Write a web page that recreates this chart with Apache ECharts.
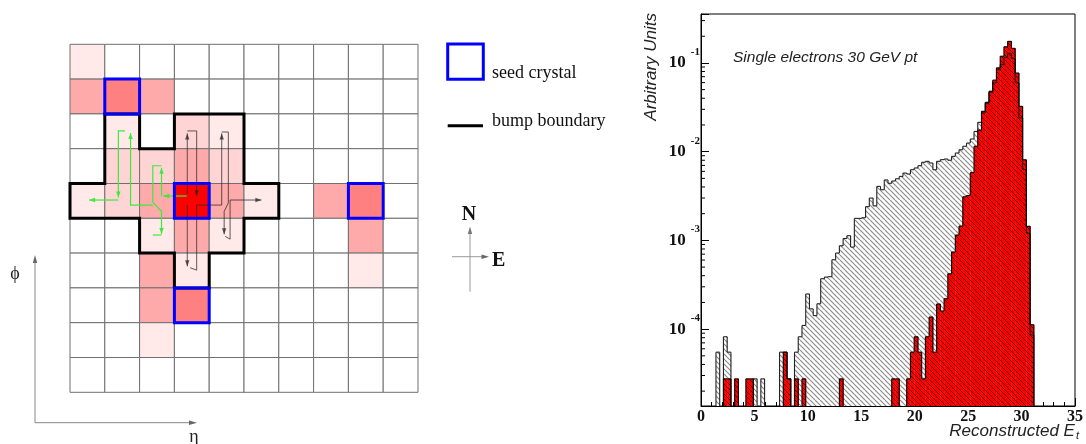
<!DOCTYPE html>
<html>
<head>
<meta charset="utf-8">
<script src="https://cdn.jsdelivr.net/npm/echarts@6/dist/echarts.min.js"></script>
<style>
  html, body { margin: 0; padding: 0; background: #fff; }
  #chart { width: 1086px; height: 444px; }
</style>
</head>
<body>
<div id="chart"></div>
<script>
// ---------------- crystal map: 10 x 10 cells, energy level per cell (0 = empty, 5 = hottest)
const cellLevels = [
  [1, 0, 0, 0, 0, 0, 0, 0, 0, 0],
  [3, 4, 3, 0, 0, 0, 0, 0, 0, 0],
  [0, 1, 0, 2, 1, 0, 0, 0, 0, 0],
  [0, 2, 2, 3, 2, 0, 0, 0, 0, 0],
  [1, 2, 3, 5, 3, 1, 0, 3, 4, 0],
  [0, 0, 1, 3, 1, 0, 0, 0, 3, 0],
  [0, 0, 3, 1, 0, 0, 0, 0, 1, 0],
  [0, 0, 3, 4, 0, 0, 0, 0, 0, 0],
  [0, 0, 1, 0, 0, 0, 0, 0, 0, 0],
  [0, 0, 0, 0, 0, 0, 0, 0, 0, 0]
];
const levelColors = ['#ffffff', '#ffe9e9', '#ffd4d4', '#ffaaaa', '#ff8080', '#ff0000'];

// seed crystals as [column, row]
const seedCells = [[1, 1], [3, 4], [8, 4], [3, 7]];

// outline of the bump, corner points in cell units
const bumpBoundary = [[1, 2], [1, 4], [0, 4], [0, 5], [2, 5], [2, 6], [3, 6], [3, 7], [4, 7], [4, 6],
  [5, 6], [5, 5], [6, 5], [6, 4], [5, 4], [5, 2], [3, 2], [3, 3], [2, 3], [2, 2], [1, 2]];

// search paths of the bump growing (cell units); arrow = head at the last point
const westPaths = [
  { pts: [[3.35, 4.36], [2.68, 4.36]], arrow: true },
  { pts: [[2.63, 4.36], [2.63, 3.55]], arrow: true },
  { pts: [[2.63, 3.49], [2.38, 3.49], [2.38, 4.54], [2.63, 4.80], [2.63, 5.45]], arrow: true },
  { pts: [[2.38, 5.48], [2.63, 5.48]], arrow: false },
  { pts: [[2.38, 4.62], [1.74, 4.62], [1.74, 2.55]], arrow: true },
  { pts: [[1.58, 2.49], [1.39, 2.49], [1.39, 4.40]], arrow: true },
  { pts: [[1.39, 4.475], [0.55, 4.475]], arrow: true }
];
const eastPaths = [
  { pts: [[3.37, 4.30], [3.37, 2.56]], arrow: true },
  { pts: [[3.37, 2.49], [3.64, 2.49], [3.64, 4.36]], arrow: true },
  { pts: [[3.37, 4.62], [3.37, 6.38]], arrow: true },
  { pts: [[3.45, 6.42], [3.64, 6.49], [3.64, 4.62]], arrow: false },
  { pts: [[3.64, 4.62], [4.36, 4.62], [4.36, 2.56]], arrow: true },
  { pts: [[4.36, 2.52], [4.55, 2.52], [4.55, 4.56], [4.43, 4.80], [4.43, 5.46]], arrow: true },
  { pts: [[4.46, 5.52], [4.60, 5.60], [4.60, 4.475], [5.50, 4.475]], arrow: true }
];

// ---------------- reconstructed Et spectra, 0.35 GeV bins starting at 0
const BIN_WIDTH = 0.35;
const etAllBumps = [
  0, 0, 0, 0, 5.5e-5, 0, 8.2e-5, 5.5e-5, 0, 0,
  0, 0, 0, 0, 2.75e-5, 0, 2.75e-5, 0, 0, 0,
  0, 5.5e-5, 5.5e-5, 2.75e-5, 0, 5.5e-5, 8.2e-5, 1.1e-4, 2.49e-4, 1.69e-4,
  1.42e-4, 1.93e-4, 3.7e-4, 3.86e-4, 3.9e-4, 6.05e-4, 7.2e-4, 8.7e-4, 1.05e-3, 1.13e-3,
  8.4e-4, 1.77e-3, 1.77e-3, 1.8e-3, 2.4e-3, 3.0e-3, 2.45e-3, 4.06e-3, 3.72e-3, 4.8e-3,
  4.4e-3, 4.67e-3, 4.95e-3, 5.26e-3, 5.74e-3, 5.6e-3, 6.26e-3, 6.55e-3, 6.95e-3, 7.59e-3,
  7.78e-3, 7.45e-3, 6.26e-3, 7.78e-3, 8.13e-3, 8.26e-3, 8.0e-3, 8.85e-3, 9.66e-3, 1.05e-2,
  1.15e-2, 1.25e-2, 1.39e-2, 1.69e-2, 2.14e-2, 2.73e-2, 3.48e-2, 4.66e-2, 5.96e-2, 8.4e-2,
  9.6e-2, 0.115, 0.128, 0.112, 0.0596, 0.024, 0.0063, 0.0012, 8.6e-5, 0
];
const etSeededBumps = [
  0, 0, 0, 0, 0, 0, 2.75e-5, 2.75e-5, 0, 2.75e-5,
  0, 0, 2.75e-5, 2.75e-5, 0, 0, 0, 0, 0, 0,
  0, 0, 5.5e-5, 2.75e-5, 0, 2.75e-5, 0, 2.75e-5, 0, 0,
  0, 0, 0, 0, 0, 0, 0, 2.75e-5, 0, 0,
  0, 0, 0, 0, 0, 0, 0, 0, 0, 0,
  0, 2.75e-5, 2.75e-5, 0, 0, 2.75e-5, 5.5e-5, 8.2e-5, 5.5e-5, 2.75e-5,
  8.2e-5, 1.37e-4, 5.5e-5, 1.92e-4, 1.6e-4, 2.2e-4, 4.2e-4, 7.4e-4, 1.15e-3, 1.45e-3,
  3.1e-3, 3.2e-3, 5.8e-3, 1.15e-2, 1.75e-2, 2.85e-2, 3.6e-2, 4.8e-2, 6.4e-2, 8.8e-2,
  0.119, 0.152, 0.175, 0.146, 0.077, 0.0324, 0.0081, 0.00144, 1.12e-4, 0
];
const X_TICK_STEP = 5;
const Y_MIN = 1.36e-5, Y_MAX = 0.356;
const minorDecades = [-5, -4, -3, -2, -1];
const minorMultipliers = [2, 3, 4, 5, 6, 7, 8, 9];

// ---------------- hatch tiles ("\" direction)
function hatchTile(bg, fg, lw) {
  const n = 10, step = 5;
  const c = document.createElement('canvas');
  c.width = n; c.height = n;
  const g = c.getContext('2d');
  g.fillStyle = bg; g.fillRect(0, 0, n, n);
  g.strokeStyle = fg; g.lineWidth = lw;
  g.beginPath();
  for (let k = -3; k <= 2; k++) {
    g.moveTo(k * step, 0);
    g.lineTo(k * step + n, n);
  }
  g.stroke();
  return { image: c, repeat: 'repeat' };
}
const grayHatch = hatchTile('#ffffff', '#8c8c8c', 1.2);
const redHatch = hatchTile('#ff0000', 'rgba(40,0,0,0.8)', 0.9);

function binItems(values) {
  return values.map((v, i) => [i * BIN_WIDTH, (i + 1) * BIN_WIDTH, v]).filter(d => d[2] > 0);
}
function edgeItems(values) {
  const out = [];
  values.forEach((v, i) => {
    const prev = i > 0 ? values[i - 1] : 0;
    if (v > 0 || prev > 0) out.push([i * BIN_WIDTH, (i + 1) * BIN_WIDTH, Math.max(v, prev), v, prev]);
  });
  return out;
}
function fillRenderer(pattern) {
  return function (params, api) {
    const p0 = api.coord([api.value(0), api.value(2)]);
    const p1 = api.coord([api.value(1), Y_MIN]);
    return {
      type: 'rect',
      shape: { x: p0[0], y: p0[1], width: p1[0] - p0[0] + 0.4, height: p1[1] - p0[1] },
      style: { fill: pattern }
    };
  };
}
function outlineRenderer(color) {
  return function (params, api) {
    const lo = api.value(0), hi = api.value(1), v = api.value(3), prev = api.value(4);
    const base = api.coord([lo, Y_MIN])[1];
    const yOf = val => (val > 0 ? api.coord([lo, val])[1] : base);
    const xl = api.coord([lo, Y_MIN])[0], xh = api.coord([hi, Y_MIN])[0];
    const st = { stroke: color, lineWidth: 1.1 };
    const kids = [];
    const yv = yOf(v), yp = yOf(prev);
    if (yv !== yp) kids.push({ type: 'line', shape: { x1: xl, y1: yp, x2: xl, y2: yv }, style: st });
    if (v > 0) kids.push({ type: 'line', shape: { x1: xl, y1: yv, x2: xh, y2: yv }, style: st });
    return { type: 'group', children: kids };
  };
}

const minorTickValues = [];
minorDecades.forEach(d => minorMultipliers.forEach(m => {
  const v = m * Math.pow(10, d);
  if (v > Y_MIN && v < Y_MAX) minorTickValues.push([0, v]);
}));

// ---------------- crystal map items
const cellItems = [];
cellLevels.forEach((row, r) => row.forEach((lvl, c) => cellItems.push([c, r, lvl])));

function pathGroup(paths, color, width) {
  return function (params, api) {
    const p = paths[params.dataIndex];
    const pts = p.pts.map(q => api.coord(q));
    const kids = [{ type: 'polyline', shape: { points: pts }, style: { stroke: color, lineWidth: width, fill: null } }];
    if (p.arrow) {
      const a = pts[pts.length - 1], b = pts[pts.length - 2];
      const dx = a[0] - b[0], dy = a[1] - b[1];
      const L = Math.hypot(dx, dy) || 1;
      const ux = dx / L, uy = dy / L, len = 6, half = 2.2;
      kids.push({
        type: 'polygon',
        shape: { points: [a, [a[0] - ux * len - uy * half, a[1] - uy * len + ux * half], [a[0] - ux * len + uy * half, a[1] - uy * len - ux * half]] },
        style: { fill: color }
      });
    }
    return { type: 'group', children: kids };
  };
}

const serif = '"Liberation Serif", "DejaVu Serif", serif';
const sans = '"Liberation Sans", Arial, sans-serif';

const chart = echarts.init(document.getElementById('chart'), null, { renderer: 'canvas' });
chart.setOption({
  backgroundColor: '#ffffff',
  animation: false,
  grid: [
    { left: 70, top: 44.3, width: 348, height: 348, show: false },
    { left: 701, top: 14, width: 377, height: 392, show: true, borderColor: '#000', borderWidth: 1, backgroundColor: 'transparent' }
  ],
  xAxis: [
    { gridIndex: 0, type: 'value', min: 0, max: 10, show: false },
    {
      gridIndex: 1, type: 'value', min: 0, max: 35, interval: X_TICK_STEP,
      axisLine: { show: true, lineStyle: { color: '#000', width: 1 } },
      axisTick: { show: true, inside: true, length: 8, lineStyle: { color: '#000' } },
      minorTick: { show: true, splitNumber: 5, length: 4, lineStyle: { color: '#000' } },
      splitLine: { show: false },
      axisLabel: { margin: 3, color: '#111', fontFamily: serif, fontWeight: 'bold', fontSize: 16, showMinLabel: true, showMaxLabel: true }
    }
  ],
  yAxis: [
    { gridIndex: 0, type: 'value', min: 0, max: 10, inverse: true, show: false },
    {
      gridIndex: 1, type: 'log', logBase: 10, min: Y_MIN, max: Y_MAX,
      axisLine: { show: true, lineStyle: { color: '#000', width: 1 } },
      axisTick: { show: true, inside: true, length: 8, lineStyle: { color: '#000' } },
      splitLine: { show: false },
      axisLabel: {
        margin: 1,
        formatter: function (val) {
          const e = Math.log10(val), r = Math.round(e);
          if (Math.abs(e - r) > 1e-6) return '';
          return '{a|10}{b|' + r + '}';
        },
        rich: {
          a: { fontFamily: serif, fontWeight: 'bold', fontSize: 17, color: '#111' },
          b: { fontFamily: serif, fontWeight: 'bold', fontSize: 11, color: '#111', padding: [0, 0, 22, 5] }
        }
      }
    }
  ],
  series: [
    // crystal cells
    {
      type: 'custom', xAxisIndex: 0, yAxisIndex: 0, data: cellItems, encode: { x: 0, y: 1 }, z: 2,
      renderItem: function (params, api) {
        const c = api.value(0), r = api.value(1), lvl = api.value(2);
        const p0 = api.coord([c, r]), p1 = api.coord([c + 1, r + 1]);
        return { type: 'rect', shape: { x: p0[0], y: p0[1], width: p1[0] - p0[0], height: p1[1] - p0[1] },
          style: { fill: levelColors[lvl], stroke: '#707070', lineWidth: 1 } };
      }
    },
    // bump boundary
    {
      type: 'custom', xAxisIndex: 0, yAxisIndex: 0, data: [[0, 0]], encode: { x: 0, y: 1 }, z: 3,
      renderItem: function (params, api) {
        return { type: 'polygon', shape: { points: bumpBoundary.map(q => api.coord(q)) },
          style: { fill: null, stroke: '#000', lineWidth: 3, lineJoin: 'miter' } };
      }
    },
    // search paths
    {
      type: 'custom', xAxisIndex: 0, yAxisIndex: 0, data: westPaths.map((p, i) => [i, 0]), encode: { x: 0, y: 1 }, z: 4,
      renderItem: pathGroup(westPaths, '#3fe83f', 1.2)
    },
    {
      type: 'custom', xAxisIndex: 0, yAxisIndex: 0, data: eastPaths.map((p, i) => [i, 0]), encode: { x: 0, y: 1 }, z: 4,
      renderItem: pathGroup(eastPaths, 'rgba(40,40,40,0.75)', 1)
    },
    // seed crystals
    {
      type: 'custom', xAxisIndex: 0, yAxisIndex: 0, data: seedCells, encode: { x: 0, y: 1 }, z: 5,
      renderItem: function (params, api) {
        const c = api.value(0), r = api.value(1);
        const p0 = api.coord([c, r]), p1 = api.coord([c + 1, r + 1]);
        return { type: 'rect', shape: { x: p0[0], y: p0[1], width: p1[0] - p0[0], height: p1[1] - p0[1] },
          style: { fill: null, stroke: '#0000ff', lineWidth: 3 } };
      }
    },
    // spectra: fills, then outlines
    {
      type: 'custom', xAxisIndex: 1, yAxisIndex: 1, data: binItems(etAllBumps), encode: { x: [0, 1], y: 2 }, z: 2, clip: true,
      renderItem: fillRenderer(grayHatch)
    },
    {
      type: 'custom', xAxisIndex: 1, yAxisIndex: 1, data: binItems(etSeededBumps), encode: { x: [0, 1], y: 2 }, z: 3, clip: true,
      renderItem: fillRenderer(redHatch)
    },
    {
      type: 'custom', xAxisIndex: 1, yAxisIndex: 1, data: edgeItems(etAllBumps), encode: { x: [0, 1], y: 2 }, z: 4, clip: true,
      renderItem: outlineRenderer('#222222')
    },
    {
      type: 'custom', xAxisIndex: 1, yAxisIndex: 1, data: edgeItems(etSeededBumps), encode: { x: [0, 1], y: 2 }, z: 5, clip: true,
      renderItem: outlineRenderer('#000000')
    },
    // minor log ticks
    {
      type: 'custom', xAxisIndex: 1, yAxisIndex: 1, data: minorTickValues, encode: { x: 0, y: 1 }, z: 6,
      renderItem: function (params, api) {
        const p = api.coord([api.value(0), api.value(1)]);
        return { type: 'line', shape: { x1: p[0], y1: p[1], x2: p[0] + 4, y2: p[1] }, style: { stroke: '#000', lineWidth: 1 } };
      }
    }
  ],
  graphic: [
    // legend
    { type: 'rect', shape: { x: 447.7, y: 44, width: 35.6, height: 35.3 }, style: { fill: null, stroke: '#0000ff', lineWidth: 3 } },
    { type: 'text', x: 492, y: 73, style: { text: 'seed crystal', font: '18px ' + serif, fill: '#111', verticalAlign: 'middle' } },
    { type: 'line', shape: { x1: 447.7, y1: 125.7, x2: 483, y2: 125.7 }, style: { stroke: '#000', lineWidth: 3 } },
    { type: 'text', x: 492, y: 121.5, style: { text: 'bump boundary', font: '18px ' + serif, fill: '#111', verticalAlign: 'middle' } },
    // compass
    { type: 'line', shape: { x1: 470, y1: 291.7, x2: 470, y2: 230 }, style: { stroke: '#999', lineWidth: 1 } },
    { type: 'polygon', shape: { points: [[470, 226.5], [467.8, 234], [472.2, 234]] }, style: { fill: '#777' } },
    { type: 'line', shape: { x1: 452, y1: 256.7, x2: 485, y2: 256.7 }, style: { stroke: '#999', lineWidth: 1 } },
    { type: 'polygon', shape: { points: [[489, 256.7], [481.5, 254.5], [481.5, 258.9]] }, style: { fill: '#666' } },
    { type: 'text', x: 469, y: 215, style: { text: 'N', font: 'bold 20px ' + serif, fill: '#111', align: 'center', verticalAlign: 'middle' } },
    { type: 'text', x: 492, y: 261, style: { text: 'E', font: 'bold 20px ' + serif, fill: '#111', verticalAlign: 'middle' } },
    // phi / eta directions
    { type: 'line', shape: { x1: 35, y1: 422.7, x2: 35, y2: 259 }, style: { stroke: '#888', lineWidth: 1 } },
    { type: 'polygon', shape: { points: [[35, 255], [32.8, 263], [37.2, 263]] }, style: { fill: '#666' } },
    { type: 'line', shape: { x1: 35, y1: 422.7, x2: 193, y2: 422.7 }, style: { stroke: '#888', lineWidth: 1 } },
    { type: 'polygon', shape: { points: [[197, 422.7], [189, 420.5], [189, 424.9]] }, style: { fill: '#666' } },
    { type: 'text', x: 15, y: 274, style: { text: 'ϕ', font: '18px ' + serif, fill: '#222', align: 'center', verticalAlign: 'middle' } },
    { type: 'text', x: 194, y: 437, style: { text: 'η', font: '18px ' + serif, fill: '#222', align: 'center', verticalAlign: 'middle' } },
    // spectrum annotations
    { type: 'text', x: 651, y: 13, rotation: Math.PI / 2,
      style: { text: 'Arbitrary Units', font: 'italic 17px ' + sans, fill: '#222', align: 'right', verticalAlign: 'middle' } },
    { type: 'text', x: 733, y: 58, style: { text: 'Single electrons 30 GeV pt', font: 'italic 15.5px ' + sans, fill: '#222', verticalAlign: 'middle' } },
    { type: 'text', x: 1079, y: 431,
      style: { text: '{a|Reconstructed E}{b|t}', align: 'right', verticalAlign: 'middle',
        rich: { a: { font: 'italic 17px ' + sans, fill: '#222' }, b: { font: 'italic 11px ' + sans, fill: '#222', padding: [10, 0, 0, 1] } } } }
  ]
});
</script>
</body>
</html>
